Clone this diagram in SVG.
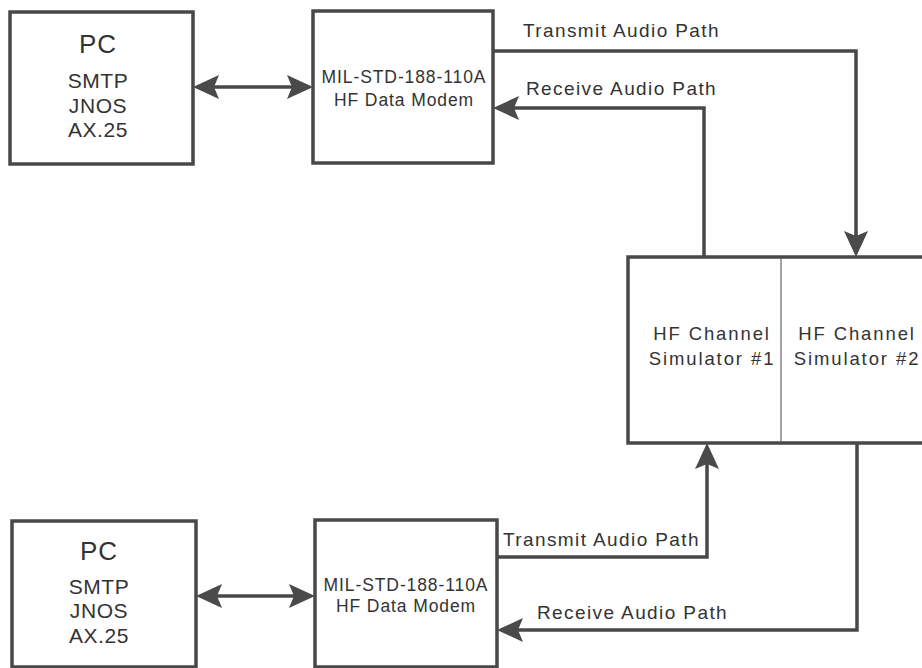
<svg xmlns="http://www.w3.org/2000/svg" width="922" height="668" viewBox="0 0 922 668">
<style>
.box{fill:#fff;stroke:#484848;stroke-width:3.5}
.div{stroke:#666;stroke-width:1.2}
.wire{fill:none;stroke:#484848;stroke-width:3.5}
text{font-family:"Liberation Sans",Arial,sans-serif;fill:#333}
.pc{font-size:26px;text-anchor:middle;letter-spacing:1px}
.sw{font-size:21px;text-anchor:middle;letter-spacing:0.6px}
.mod{font-size:17.5px;text-anchor:middle;letter-spacing:0.9px}
.lbl{font-size:19px;letter-spacing:1.4px}
.sim{font-size:18.5px;text-anchor:middle;letter-spacing:1.9px}
</style>
<defs>
<marker id="ah" viewBox="0 0 26 24" refX="22" refY="12" markerWidth="26" markerHeight="24" markerUnits="userSpaceOnUse" orient="auto-start-reverse">
<path d="M0,0 L26,12 L0,24 L5,12 Z" fill="#4a4a4a"/>
</marker>
</defs>
<rect width="922" height="668" fill="#fff"/>
<g id="connectors">
<path class="wire" d="M197,87 H309" marker-start="url(#ah)" marker-end="url(#ah)"/>
<path class="wire" d="M493,51 H856 V253" marker-end="url(#ah)"/>
<path class="wire" d="M704,257 V108 H497" marker-end="url(#ah)"/>
<path class="wire" d="M200,596 H311" marker-start="url(#ah)" marker-end="url(#ah)"/>
<path class="wire" d="M497,557 H707 V447" marker-end="url(#ah)"/>
<path class="wire" d="M857,443 V630 H501" marker-end="url(#ah)"/>
<text class="lbl" x="523" y="37">Transmit Audio Path</text>
<text class="lbl" x="526" y="95">Receive Audio Path</text>
<text class="lbl" x="503" y="546">Transmit Audio Path</text>
<text class="lbl" x="537" y="619">Receive Audio Path</text>
</g>
<g id="pc1">
<rect class="box" x="10" y="12" width="183" height="152"/>
<text class="pc" x="98" y="53">PC</text>
<text class="sw" x="98" y="88">SMTP</text>
<text class="sw" x="98" y="113">JNOS</text>
<text class="sw" x="98" y="137">AX.25</text>
</g>
<g id="modem1">
<rect class="box" x="313" y="11" width="180" height="152"/>
<text class="mod" x="404" y="83">MIL-STD-188-110A</text>
<text class="mod" x="404" y="106">HF Data Modem</text>
</g>
<g id="simulator">
<rect class="box" x="628" y="257" width="312" height="186"/>
<line class="div" x1="781" y1="258" x2="781" y2="442"/>
<text class="sim" x="712" y="340">HF Channel</text>
<text class="sim" x="712" y="365">Simulator #1</text>
<text class="sim" x="857" y="340">HF Channel</text>
<text class="sim" x="857" y="365">Simulator #2</text>
</g>
<g id="pc2">
<rect class="box" x="12" y="521" width="184" height="146"/>
<text class="pc" x="99" y="560">PC</text>
<text class="sw" x="99" y="594">SMTP</text>
<text class="sw" x="99" y="618">JNOS</text>
<text class="sw" x="99" y="643">AX.25</text>
</g>
<g id="modem2">
<rect class="box" x="315" y="520" width="182" height="147"/>
<text class="mod" x="406" y="591">MIL-STD-188-110A</text>
<text class="mod" x="406" y="612">HF Data Modem</text>
</g>
</svg>
